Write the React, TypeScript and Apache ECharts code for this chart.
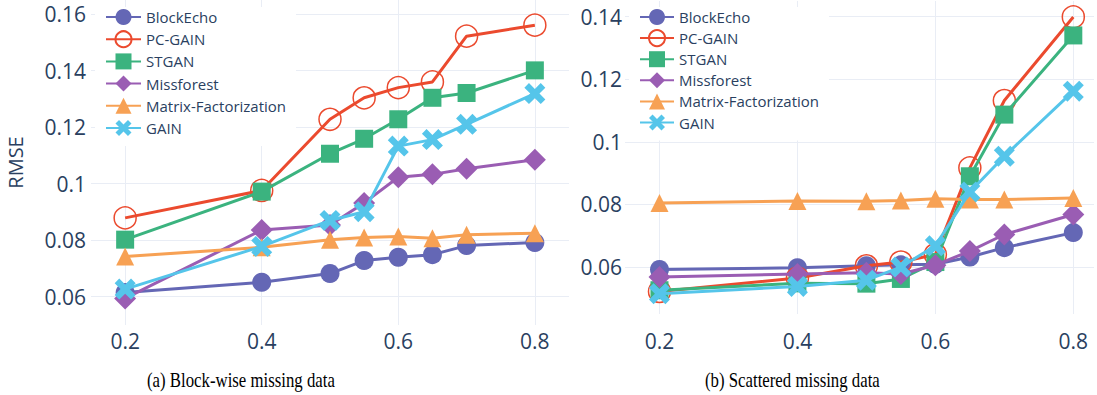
import React, { useEffect, useRef } from "react";
import * as echarts from "echarts";

const missingRates = [0.2, 0.4, 0.5, 0.55, 0.6, 0.65, 0.7, 0.8];
const seriesNames = ["BlockEcho", "PC-GAIN", "STGAN", "Missforest", "Matrix-Factorization", "GAIN"];

// (a) Block-wise missing data
const blockBlockEcho = [0.0615, 0.0651, 0.0682, 0.0728, 0.074, 0.0749, 0.0781, 0.0792];
const blockPcGain = [0.0879, 0.0976, 0.1228, 0.1304, 0.134, 0.136, 0.1522, 0.1561];
const blockStgan = [0.0802, 0.0972, 0.1106, 0.1159, 0.1228, 0.1304, 0.1321, 0.1401];
const blockMissforest = [0.0594, 0.0836, 0.0854, 0.0932, 0.1023, 0.1033, 0.1053, 0.1085];
const blockMF = [0.0742, 0.0775, 0.0802, 0.081, 0.0813, 0.0807, 0.0819, 0.0825];
const blockGain = [0.0627, 0.0778, 0.087, 0.0901, 0.1133, 0.1156, 0.121, 0.1319];

// (b) Scattered missing data
const scatBlockEcho = [0.0592, 0.0598, 0.0604, 0.0607, 0.0609, 0.0632, 0.0662, 0.071];
const scatPcGain = [0.0522, 0.0565, 0.0604, 0.0616, 0.064, 0.0917, 0.1132, 0.1399];
const scatStgan = [0.0526, 0.0548, 0.0547, 0.0562, 0.0616, 0.089, 0.1087, 0.134];
const scatMissforest = [0.0568, 0.0578, 0.0582, 0.0578, 0.0606, 0.0651, 0.0704, 0.0768];
const scatMF = [0.0805, 0.0811, 0.081, 0.0813, 0.0818, 0.0816, 0.0816, 0.0821];
const scatGain = [0.0515, 0.0538, 0.0558, 0.06, 0.0668, 0.084, 0.0954, 0.1162];

const captions = ["(a) Block-wise missing data", "(b) Scattered missing data"];

const COLORS = ["#6467b5", "#eb4a2e", "#3bb37f", "#9a5db3", "#f7a154", "#55c5ea"];
const TEXT = "#2a3f5f";
const GRID = "#e9edf5";
const T = "rgba(0,0,0,0)";
const FONT = "Open Sans";
const XSHAPE = "path://M0,2.2L2.2,0L5,2.8L7.8,0L10,2.2L7.2,5L10,7.8L7.8,10L5,7.2L2.2,10L0,7.8L2.8,5Z";

const symbols = [
  { symbol: "circle", size: 19 },
  { symbol: "circle", size: 22 },
  { symbol: "rect", size: 18 },
  { symbol: "diamond", size: 22 },
  { symbol: "triangle", size: 18 },
  { symbol: XSHAPE, size: 21 },
];

function buildSeries(sets: number[][], gridIndex: number) {
  return sets.map((vals, i) => {
    const isOpen = i === 1;
    return {
      type: "line",
      name: seriesNames[i],
      xAxisIndex: gridIndex,
      yAxisIndex: gridIndex,
      data: missingRates.map((x, k) => [x, vals[k]]),
      symbol: symbols[i].symbol,
      symbolSize: symbols[i].size,
      showAllSymbol: true,
      clip: false,
      lineStyle: { color: COLORS[i], width: 3 },
      itemStyle: isOpen
        ? { color: T, borderColor: COLORS[i], borderWidth: 1.5 }
        : { color: COLORS[i], borderWidth: 0 },
      emphasis: { disabled: true },
      z: 2 + i,
    };
  });
}

const fmtX = (v: number) => (Math.abs(v * 5 - Math.round(v * 5)) < 1e-6 ? String(+v.toFixed(1)) : "");
const fmtY = (v: number) => (Math.abs(v * 50 - Math.round(v * 50)) < 1e-6 ? String(+v.toFixed(2)) : "");

export default function App() {
  const ref = useRef<HTMLDivElement>(null);
  useEffect(() => {
    if (!ref.current) return;
    const chart = echarts.init(ref.current, undefined, { renderer: "svg" });
    const xAxisBase = (min: number, max: number, margin: number, gridIndex: number) => ({
      type: "value",
      gridIndex,
      min,
      max,
      interval: 0.05,
      axisLine: { show: false },
      axisTick: { show: false },
      axisLabel: {
        formatter: fmtX,
        color: TEXT,
        fontFamily: FONT,
        fontSize: 21,
        margin,
      },
      splitLine: { show: true, lineStyle: { color: [T, GRID, T, T], width: 1 } },
    });
    const legendBase = (left: number, itemWidth: number, gap: number) => ({
      data: seriesNames,
      orient: "vertical",
      left,
      top: 7,
      itemWidth,
      itemHeight: 20,
      itemGap: gap,
      padding: [0, 10, 8, 10],
      backgroundColor: "#ffffff",
      selectedMode: false,
      textStyle: { color: TEXT, fontFamily: FONT, fontSize: 15, lineHeight: 20 },
      z: 10,
    });
    chart.setOption({
      animation: false,
      backgroundColor: "#ffffff",
      grid: [
        { left: 91, top: 0, width: 478, bottom: 70, containLabel: false },
        { left: 625, top: 1, right: 0, bottom: 81, containLabel: false },
      ],
      xAxis: [xAxisBase(0.15, 0.85, 5, 0), xAxisBase(0.15, 0.83, 16, 1)],
      yAxis: [
        {
          type: "value",
          gridIndex: 0,
          min: 0.05,
          max: 0.165,
          interval: 0.005,
          name: "RMSE",
          nameLocation: "middle",
          nameRotate: 90,
          nameGap: 66,
          nameTextStyle: { color: TEXT, fontFamily: FONT, fontSize: 20 },
          axisLine: { show: false },
          axisTick: { show: false },
          axisLabel: { formatter: fmtY, color: TEXT, fontFamily: FONT, fontSize: 21, margin: 5 },
          splitLine: { show: true, lineStyle: { color: [T, T, GRID, T], width: 1 } },
        },
        {
          type: "value",
          gridIndex: 1,
          min: 0.045,
          max: 0.145,
          interval: 0.005,
          axisLine: { show: false },
          axisTick: { show: false },
          axisLabel: { formatter: fmtY, color: TEXT, fontFamily: FONT, fontSize: 21, margin: 3 },
          splitLine: { show: true, lineStyle: { color: [T, T, T, GRID], width: 1 } },
        },
      ],
      legend: [legendBase(95, 35, 2.2), legendBase(629, 34, 1.1)],
      series: [
        ...buildSeries([blockBlockEcho, blockPcGain, blockStgan, blockMissforest, blockMF, blockGain], 0),
        ...buildSeries([scatBlockEcho, scatPcGain, scatStgan, scatMissforest, scatMF, scatGain], 1),
      ],
      graphic: [
        {
          type: "text",
          x: 147,
          y: 381,
          scaleX: 0.84,
          style: {
            text: captions[0],
            fill: "#000",
            font: "20px 'Liberation Serif'",
            verticalAlign: "middle",
          },
        },
        {
          type: "text",
          x: 705,
          y: 381,
          scaleX: 0.84,
          style: {
            text: captions[1],
            fill: "#000",
            font: "20px 'Liberation Serif'",
            verticalAlign: "middle",
          },
        },
      ],
    });
    return () => chart.dispose();
  }, []);
  return (
    <div
      ref={ref}
      style={{ position: "fixed", left: 0, top: 0, width: 1097, height: 395, background: "#fff" }}
    />
  );
}
